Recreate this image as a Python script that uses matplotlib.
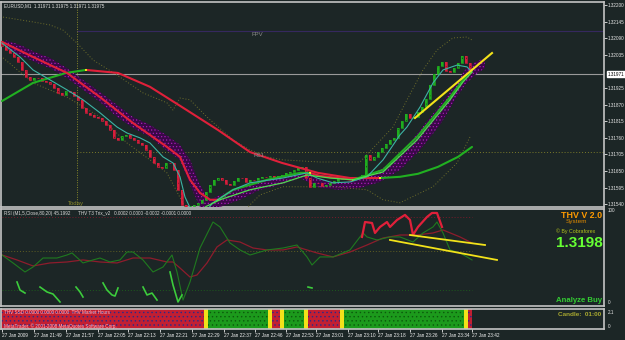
import matplotlib
matplotlib.use('Agg')

import numpy as np
import matplotlib.pyplot as plt
import matplotlib.transforms as mtransforms

plt.rcParams['font.family'] = ['Liberation Sans', 'DejaVu Sans']
plt.rcParams['hatch.linewidth'] = 0.5

# ---- price bars (EURUSD M1), one close per bar ----
first_open = 1.32074
closes = [
    1.32064, 1.32051, 1.32041, 1.32028, 1.32011, 1.31985, 1.31962, 1.31952, 1.31958, 1.31958,
    1.31948, 1.31945, 1.31939, 1.31925, 1.31909, 1.31902, 1.31915, 1.31912, 1.31899, 1.31886,
    1.31859, 1.31843, 1.31836, 1.31829, 1.31826, 1.31816, 1.31803, 1.31786, 1.31760, 1.31753,
    1.31766, 1.31770, 1.31760, 1.31753, 1.31743, 1.31737, 1.31720, 1.31697, 1.31677, 1.31664,
    1.31660, 1.31677, 1.31677, 1.31654, 1.31588,
    1.31538, 1.31531, 1.31535, 1.31538, 1.31545, 1.31555, 1.31581, 1.31604, 1.31621, 1.31627,
    1.31621, 1.31608, 1.31604, 1.31617, 1.31627, 1.31627, 1.31614, 1.31621, 1.31621, 1.31627,
    1.31631, 1.31631, 1.31634, 1.31627, 1.31634, 1.31637, 1.31644, 1.31647, 1.31654, 1.31660,
    1.31664, 1.31627, 1.31598, 1.31611, 1.31611, 1.31601, 1.31604, 1.31611, 1.31617, 1.31624,
    1.31627, 1.31627, 1.31631, 1.31624, 1.31631, 1.31637, 1.31703, 1.31687, 1.31697, 1.31713,
    1.31727, 1.31740, 1.31753, 1.31760, 1.31793, 1.31816, 1.31839, 1.31826, 1.31829, 1.31846,
    1.31862, 1.31889, 1.31935, 1.31972, 1.31998, 1.32011, 1.31982, 1.31978, 1.31991, 1.32008,
    1.32031, 1.32008, 1.31975,
]

# slow moving average (bar index, price) and where its colour flips
long_x = [0, 7.75, 16, 21, 29, 37, 45, 54, 62, 70, 79, 87, 94.5, 99.5, 104, 109, 114, 117.5]
long_p = [1.31882, 1.31942, 1.31975, 1.31985, 1.31975, 1.31929, 1.31862, 1.31786, 1.31713,
          1.31677, 1.31644, 1.31627, 1.31627, 1.31631, 1.31641, 1.31664, 1.31697, 1.31730]
long_turns = [3, 12]
long_cols = ['green', 'red', 'green']

# medium moving average
med_x = [0, 7.75, 16.25, 24.5, 32.75, 41.25, 44.5, 47, 49.5, 52, 54, 57.75, 66.25, 74.5, 77,
         79.5, 87.75, 95.25, 103.75, 112, 115.25, 117.5]
med_p = [1.32078, 1.32028, 1.31975, 1.31895, 1.31809, 1.31730, 1.31697, 1.31621, 1.31578,
         1.31555, 1.31555, 1.31588, 1.31621, 1.31644, 1.31644, 1.31634, 1.31621, 1.31654,
         1.31763, 1.31895, 1.31952, 1.31985]
med_turns = [10, 14, 16]
med_cols = ['red', 'green', 'red', 'green']

# fast line (teal)
fast_x = [0, 4.5, 7.75, 12, 16.25, 20.25, 24.5, 28.75, 31.25, 34.5, 37, 40.25, 42.75, 44.5,
          45.75, 47.5, 50.75, 52.75, 57.75, 62, 70.25, 76.25, 78.75, 82.75, 87, 91.25, 95.25,
          99.5, 101.25, 104.5, 107.75, 110.25, 113.75, 116.25, 117.5]
fast_p = [1.32074, 1.32028, 1.31985, 1.31952, 1.31919, 1.31886, 1.31843, 1.31796, 1.31776,
          1.31760, 1.31743, 1.31697, 1.31677, 1.31631, 1.31564, 1.31515, 1.31515, 1.31545,
          1.31588, 1.31611, 1.31627, 1.31644, 1.31627, 1.31611, 1.31614, 1.31631, 1.31687,
          1.31770, 1.31796, 1.31862, 1.31942, 1.31985, 1.32001, 1.31995, 1.31978]

# thin light-green line in the up move
sig_x = [50.75, 54.5, 62, 70.25, 76.25, 82, 87.75, 95.25, 103.75, 112, 115.25, 117.5]
sig_p = [1.31531, 1.31555, 1.31588, 1.31611, 1.31637, 1.31627, 1.31621, 1.31647, 1.31753,
         1.31886, 1.31945, 1.31978]

# envelope (dotted)
up_x = [0.25, 7.75, 12, 15.25, 18.75, 22.75, 28.75, 35.25, 41.25, 42.75, 44.5, 47, 51.25,
        57.75, 62, 66.25, 70.25, 79.5, 89.5, 97.75, 101.25, 105.25, 108.75, 112.75, 116.25, 117.5]
up_p = [1.32160, 1.32144, 1.32134, 1.32117, 1.32074, 1.32018, 1.31968, 1.31909, 1.31876,
        1.31852, 1.31892, 1.31886, 1.31829, 1.31753, 1.31720, 1.31697, 1.31687, 1.31680,
        1.31680, 1.31796, 1.31886, 1.31985, 1.32051, 1.32091, 1.32094, 1.32084]
lo_x = [0.25, 7.75, 16.25, 24.5, 31.25, 37, 41.25, 45.75, 49.5, 59.5, 64.5, 70.25, 82.75,
        91.25, 95.25, 99.5, 107.75, 113.75, 117]
lo_p = [1.32025, 1.31942, 1.31895, 1.31829, 1.31743, 1.31687, 1.31644, 1.31531, 1.31505,
        1.31505, 1.31571, 1.31598, 1.31598, 1.31588, 1.31555, 1.31545, 1.31598, 1.31677, 1.31763]

# purple cloud
band_x = [0.75, 4.5, 8.25, 12, 16.25, 20.25, 24.5, 28.75, 32.75, 37, 41, 44.5, 47, 49.5, 52,
          54.5, 59.5, 64.5, 69.5, 74.5, 79.5, 84.5, 89.5, 94.5, 99.5, 104.5, 109.5, 113.25,
          115.75, 118.25, 120.75]
band_hi = [1.32084, 1.32068, 1.32044, 1.32025, 1.31991, 1.31952, 1.31912, 1.31869, 1.31829,
           1.31803, 1.31770, 1.31737, 1.31687, 1.31604, 1.31555, 1.31571, 1.31594, 1.31614,
           1.31627, 1.31647, 1.31621, 1.31611, 1.31621, 1.31654, 1.31703, 1.31786, 1.31869,
           1.31935, 1.31985, 1.32011, 1.32025]
band_lo = [1.32058, 1.32034, 1.32011, 1.31991, 1.31958, 1.31919, 1.31879, 1.31829, 1.31793,
           1.31763, 1.31720, 1.31687, 1.31604, 1.31531, 1.31531, 1.31531, 1.31555, 1.31588,
           1.31604, 1.31627, 1.31594, 1.31588, 1.31594, 1.31614, 1.31654, 1.31720, 1.31803,
           1.31886, 1.31935, 1.31968, 1.31991]

trend_x = [103.25, 122.5]
trend_p = [1.31826, 1.32041]

fpv_level = 1.32114
r61_level = 1.31713
bid = 1.31971
today_x = 18.75

price_ticks = [1.32200, 1.32145, 1.32090, 1.32035, 1.31925, 1.31870, 1.31815, 1.31760,
               1.31705, 1.31650, 1.31595, 1.31540]

# ---- oscillator panel ----
rsi_x = [0, 2.75, 5.75, 7.75, 10.25, 13.75, 16.25, 17.5, 20.25, 22.75, 24.5, 27, 29.5, 31.25,
         32.75, 35.25, 37.75, 40.25, 42.5, 43.75, 45.25, 47, 49.5, 52.75, 54.5, 57, 59.5, 62,
         64.5, 66.25, 70.25, 73.75, 76.25, 77.5, 79.5, 82.75, 87, 90.25, 91.25, 93.75, 97,
         99.5, 102.75, 105.25, 107.75, 108.75, 110.25, 112, 114.5, 116.25, 117.5]
rsi_v = [50.5, 42.3, 33, 38.1, 47.4, 47.4, 50.5, 52.6, 42.3, 45.4, 47.4, 43.3, 45.4, 53.6,
         53.6, 45.4, 33, 38.1, 50.5, 33, 4.1, 22.7, 57.7, 84.5, 79.4, 62.9, 55.7, 50.5, 53.6,
         55.7, 57.7, 60.8, 48.5, 40.2, 48.5, 48.5, 55.7, 73.2, 69.1, 66, 69.1, 69.1, 63.9,
         73.2, 79.4, 84.5, 73.2, 55.7, 52.6, 48.5, 45.4]
slow_x = [0, 3.75, 7.75, 12, 16.25, 20.25, 24.5, 28.75, 32.75, 37, 41.25, 42.75, 44.5, 47,
          48.75, 51.25, 53.75, 56.25, 59.5, 62.75, 66.25, 70.25, 73.75, 78.75, 82.75, 87,
          91.25, 95.25, 99.5, 103.75, 107.75, 110.25, 114.5, 117.5]
slow_v = [50.5, 45.4, 39.2, 42.3, 43.3, 45.4, 43.3, 42.3, 47.4, 47.4, 43.3, 43.3, 37.1, 27.8,
          29.9, 42.3, 58.8, 66, 63.9, 57.7, 55.7, 55.7, 58.8, 52.6, 48.5, 53.6, 60.8, 68,
          71.1, 71.1, 73.2, 76.3, 69.1, 62.9]
thv_x = [90, 90.75, 92.5, 93.25, 94.5, 96.25, 97, 98.75, 100.75, 102, 102.75, 104, 106.25,
         107.5, 108.75, 110]
thv_v = [69.1, 84.5, 83.5, 73.2, 79.4, 84.5, 79.4, 86.6, 91.8, 86.6, 71.1, 79.4, 89.7, 93.8,
         93.8, 79.4]
hook_x = [[3.75, 4.5, 5.75], [9.5, 11.25, 12.75, 14.5], [18.5, 19.5, 20.25],
          [25.25, 26.25, 27.5, 28.25, 29], [35.25, 36.25, 37.5, 38.75], [42, 42.75, 44, 45],
          [76.5, 77.5]]
hook_v = [[22.7, 14.4, 11.3], [17.5, 12.4, 10.3, 2.1], [17.5, 12.4, 7.2],
          [21.7, 14.4, 9.3, 8.2, 16.5], [17.5, 9.3, 11.3, 4.1], [33, 19.6, 2.1, 9.3],
          [17.5, 16.5]]
osc_lines_x = [[97, 123.75], [102, 120.75]]
osc_lines_v = [[66, 45.4], [71.1, 60.8]]
osc_levels = [90, 54.6, 14.4]

# ---- signal strip (run lengths in bars) ----
strip_states = ['sell', 'wait', 'buy', 'wait', 'sell', 'wait', 'buy', 'wait', 'sell', 'wait',
                'buy', 'wait', 'sell']
strip_lengths = [51, 1, 15, 1, 2, 1, 5, 1, 8, 1, 30, 1, 1]

time_ticks = [0, 8, 16, 24, 31.5, 39.5, 47.5, 55.5, 63.25, 71, 78.5, 86.5, 94, 102, 110, 117.5]
time_labels = ['27 Jan 2009', '27 Jan 21:49', '27 Jan 21:57', '27 Jan 22:05', '27 Jan 22:13',
               '27 Jan 22:21', '27 Jan 22:29', '27 Jan 22:37', '27 Jan 22:46', '27 Jan 22:53',
               '27 Jan 23:01', '27 Jan 23:10', '27 Jan 23:18', '27 Jan 23:26', '27 Jan 23:34',
               '27 Jan 23:42']

BG = '#1c2626'
FRAME = '#c4c4c4'
RED = '#e0203a'
GREEN = '#21b021'
YELLOW = '#f2e21a'
COLS = {'red': RED, 'green': GREEN}
STRIP = {'sell': ('#c21f32', '#2a2a8a'), 'buy': ('#1c9a1c', '#0c5a0c'), 'wait': (YELLOW, YELLOW)}
SMALL = 3.3

W, H = 625, 340


def fx(px):
    return px / W


def fy(py):
    return 1 - py / H


def plot_turning(ax, xs, ys, turns, cols, lw):
    cuts = [0] + turns + [len(xs) - 1]
    for k, c in enumerate(cols):
        a, b = cuts[k], cuts[k + 1]
        ax.plot(xs[a:b + 1], ys[a:b + 1], color=COLS[c], lw=lw, solid_capstyle='round', zorder=5)
    for t in turns:
        ax.plot(xs[t], ys[t], marker='s', ms=1.6, color=YELLOW, mew=0, zorder=6)


fig = plt.figure(figsize=(6.25, 3.4), dpi=100, facecolor=BG)
ax = fig.add_axes([fx(1), fy(207), 603 / W, 205 / H])
ax_osc = fig.add_axes([fx(1), fy(306), 603 / W, 97 / H])
ax_bar = fig.add_axes([fx(1), fy(329), 603 / W, 20 / H])

for a in (ax, ax_osc, ax_bar):
    a.set_facecolor(BG)
    a.set_xlim(-0.25, 150.5)
    for s in a.spines.values():
        s.set_color(FRAME)
        s.set_linewidth(1.2)
    a.tick_params(colors='#e8e8e8', labelsize=SMALL, length=2, width=0.6, pad=0.8)

# ---- main price panel ----
ax.set_ylim(1.31531, 1.32210)
ax.yaxis.tick_right()
ax.set_yticks(price_ticks, ['%.5f' % p for p in price_ticks])
ax.set_xticks([])

ax.axhline(bid, color='#9a9a9a', lw=0.8, zorder=2)
ax.plot([today_x, 150.5], [fpv_level, fpv_level], color='#35285e', lw=0.8, zorder=2)
ax.plot([today_x, 150.5], [r61_level, r61_level], color='#7a7a2a', lw=0.7, ls=(0, (1, 2)), zorder=2)
ax.axvline(today_x, color='#8a8a2a', lw=0.7, ls=(0, (1, 1.5)), zorder=2)

ax.fill_between(band_x, band_lo, band_hi, facecolor='#3a0848', edgecolor='#a41cb4',
                hatch='.....', lw=0, zorder=3)
ax.plot(up_x, up_p, color='#6e6e2a', lw=0.7, ls=(0, (1, 2)), zorder=3)
ax.plot(lo_x, lo_p, color='#6e6e2a', lw=0.7, ls=(0, (1, 2)), zorder=3)

idx = np.arange(len(closes))
opens = [first_open] + closes[:-1]
body = np.array(closes) - np.array(opens)
ccol = ['#1fae1f' if b > 0 else '#d81e3c' for b in body]
dcol = ['#0d5e0d' if b > 0 else '#7a0f20' for b in body]
ax.bar(idx, body, bottom=opens, width=0.7, color=ccol, edgecolor=dcol, hatch='....', lw=0, zorder=4)
ax.bar(idx, body, bottom=opens, width=0.7, fill=False, edgecolor=ccol, lw=0.5, zorder=4)

plot_turning(ax, long_x, long_p, long_turns, long_cols, 1.5)
plot_turning(ax, med_x, med_p, med_turns, med_cols, 1.5)
ax.plot(fast_x, fast_p, color='#3cb4a4', lw=0.8, zorder=6)
ax.plot(sig_x, sig_p, color='#4ee04e', lw=0.9, zorder=6)
ax.plot(trend_x, trend_p, color=YELLOW, lw=1.5, zorder=7)

ax.text(1.006, bid, '%.5f' % bid,
        transform=mtransforms.blended_transform_factory(ax.transAxes, ax.transData),
        fontsize=SMALL, color='black', va='center', ha='left',
        bbox=dict(boxstyle='square,pad=0.15', fc='white', ec='white'), clip_on=False)

fig.text(fx(4), fy(6), 'EURUSD,M1  1.31971 1.31975 1.31971 1.31975', fontsize=SMALL,
         color='#e0e0e0', va='center')
fig.text(fx(252), fy(34), 'FPV', fontsize=4.3, color='#8a8a8a', va='center')
fig.text(fx(253), fy(156), 'R61', fontsize=4.3, color='#8a8a8a', va='center')
fig.text(fx(68), fy(204), 'Today', fontsize=4.3, color='#8a8a2a', va='center')

# ---- oscillator panel ----
ax_osc.set_ylim(-2.06, 97.9)
ax_osc.set_xticks([])
ax_osc.set_yticks([])
for lvl, c in zip(osc_levels, ['#7a1a2a', '#5e5e22', '#1c5a1c']):
    ax_osc.plot([0, 117.5], [lvl, lvl], color=c, lw=0.7, ls=(0, (1, 2)))
ax_osc.plot(slow_x, slow_v, color='#8e1c2c', lw=0.9)
ax_osc.plot(rsi_x, rsi_v, color='#1f7a1f', lw=0.8)
ax_osc.plot(thv_x, thv_v, color='#e0203a', lw=1.6)
for hx, hv in zip(hook_x, hook_v):
    ax_osc.plot(hx, hv, color='#3ccc3c', lw=1.2)
for lx, lv in zip(osc_lines_x, osc_lines_v):
    ax_osc.plot(lx, lv, color=YELLOW, lw=1.3)

fig.text(fx(608), fy(210), '100', fontsize=SMALL, color='#e8e8e8', va='center')
fig.text(fx(608), fy(303), '0', fontsize=SMALL, color='#e8e8e8', va='center')
fig.text(fx(4), fy(213), 'RSI (M1,5,Close,80,20) 45.1992', fontsize=SMALL, color='#d8d8d8', va='center')
fig.text(fx(78), fy(213), 'THV T3 Trix_v2   0.0002 0.0000 -0.0002 -0.0001 0.0000', fontsize=SMALL,
         color='#d8d8d8', va='center')

fig.text(fx(602), fy(215), 'THV V 2.0', fontsize=6.4, color='#ff9a00', weight='bold', ha='right', va='center')
fig.text(fx(576), fy(222), 'System', fontsize=4.6, color='#e08a00', ha='center', va='center')
fig.text(fx(576), fy(231), '\u00a9 By Cobraforex', fontsize=3.8, color='#b4c41c', ha='center', va='center')
fig.text(fx(603), fy(243), '1.3198', fontsize=11, color='#66ff33', weight='bold', ha='right', va='center')
fig.text(fx(602), fy(301), 'Analyze Buy', fontsize=5.6, color='#33cc33', weight='bold', ha='right', va='center')

# ---- signal strip ----
ax_bar.set_ylim(0, 1)
ax_bar.set_yticks([])
start = -0.5
for st, n in zip(strip_states, strip_lengths):
    fc, dc = STRIP[st]
    ax_bar.bar(start, 1, width=n, align='edge', color=fc, edgecolor=dc, hatch='....', lw=0)
    start += n
ax_bar.set_xticks(time_ticks, time_labels, fontsize=3.4, color='#f0f0f0', ha='left')
ax_bar.tick_params(axis='x', length=2, pad=1.2)

fig.text(fx(4), fy(313), 'THV SSD 0.0000 0.0000 0.0000  THV Market Hours', fontsize=SMALL,
         color='#ffb8c8', va='center')
fig.text(fx(4), fy(326), 'MetaTrader, \u00a9 2001-2008 MetaQuotes Software Corp.', fontsize=SMALL,
         color='#ffb8c8', va='center')
fig.text(fx(601), fy(314), 'Candle:  01:00', fontsize=4.6, color='#a8a830', weight='bold',
         ha='right', va='center')
fig.text(fx(608), fy(312), '2.1', fontsize=SMALL, color='#e8e8e8', va='center')
fig.text(fx(608), fy(326), '0', fontsize=SMALL, color='#e8e8e8', va='center')

fig.savefig('out.png', dpi=100, facecolor=BG)
